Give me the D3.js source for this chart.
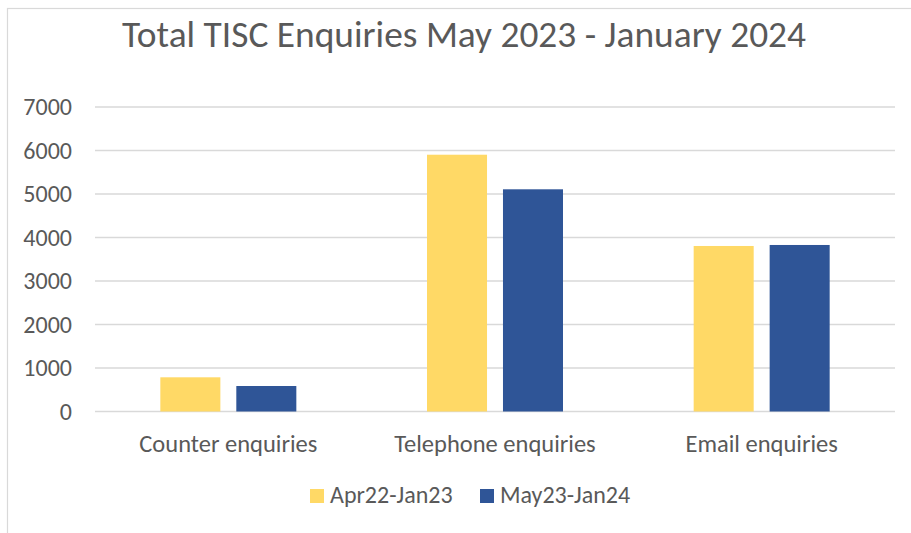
<!DOCTYPE html>
<html><head><meta charset="utf-8">
<script src="https://cdn.jsdelivr.net/npm/d3@7"></script>
<style>html,body{margin:0;padding:0;background:#fff;overflow:hidden}</style>
</head><body>
<svg id="c" width="911" height="533"></svg>
<script>
const categories = ["Counter enquiries", "Telephone enquiries", "Email enquiries"];
const seriesNames = ["Apr22-Jan23", "May23-Jan24"];
const apr22Jan23 = [786, 5903, 3805];
const may23Jan24 = [586, 5108, 3828];
const yTicks = [0, 1000, 2000, 3000, 4000, 5000, 6000, 7000];
const colors = ["#FFD966", "#2F5597"];
const title = "Total TISC Enquiries May 2023 - January 2024";

(function () {
const font = "Calibri, Carlito, 'Open Sans', 'Liberation Sans', sans-serif";
const svg = d3.select("#c");
const pLeft = 95, pRight = 895, pTop = 107, pBottom = 411.5;

svg.append("rect").attr("x", 7.5).attr("y", 8.5).attr("width", 1000).attr("height", 1000)
  .attr("fill", "none").attr("stroke", "#d9d9d9").attr("stroke-width", 1.2);

svg.append("text").attr("x", 464).attr("y", 47).attr("text-anchor", "middle")
  .attr("font-family", font).attr("font-size", 37.4).attr("fill", "#595959").text(title);

const y = d3.scaleLinear().domain([0, 7000]).range([pBottom, pTop]);
const x0 = d3.scaleBand().domain(categories).range([pLeft, pRight]).paddingInner(0.49).paddingOuter(0.245);
const x1 = d3.scaleBand().domain(seriesNames).range([0, x0.bandwidth()]).paddingInner(0.21);

svg.append("g").selectAll("line").data(yTicks).join("line")
  .attr("x1", pLeft).attr("x2", pRight)
  .attr("y1", d => y(d)).attr("y2", d => y(d))
  .attr("stroke", "#d9d9d9").attr("stroke-width", 1.3);

const yAxis = svg.append("g").attr("transform", `translate(72,0)`)
  .call(d3.axisLeft(y).tickValues(yTicks).tickSize(0).tickPadding(0).tickFormat(d3.format("d")));
yAxis.select(".domain").remove();
yAxis.selectAll("text").attr("font-family", font).attr("font-size", 24).attr("fill", "#595959");

const data = categories.map((c, i) => ({c, vals: [apr22Jan23[i], may23Jan24[i]]}));
const groups = svg.append("g").selectAll("g").data(data).join("g")
  .attr("transform", d => `translate(${x0(d.c)},0)`);
groups.selectAll("rect").data(d => d.vals.map((v, j) => ({k: seriesNames[j], v, j}))).join("rect")
  .attr("x", d => x1(d.k)).attr("width", x1.bandwidth())
  .attr("y", d => y(d.v)).attr("height", d => y(0) - y(d.v))
  .attr("fill", d => colors[d.j]);

const xAxis = svg.append("g").attr("transform", `translate(0,${pBottom})`)
  .call(d3.axisBottom(x0).tickSize(0).tickPadding(0));
xAxis.select(".domain").remove();
xAxis.selectAll("text").attr("font-family", font).attr("font-size", 24.5).attr("fill", "#595959")
  .attr("dy", null).attr("y", 40.5);

const legX = [310, 480];
const leg = svg.append("g").selectAll("g").data(seriesNames).join("g")
  .attr("transform", (d, i) => `translate(${legX[i]},489)`);
leg.append("rect").attr("width", 14).attr("height", 14).attr("fill", (d, i) => colors[i]);
leg.append("text").attr("x", 20).attr("y", 14)
  .attr("font-family", font).attr("font-size", 24).attr("fill", "#595959").text(d => d);
})();
</script>
</body></html>
